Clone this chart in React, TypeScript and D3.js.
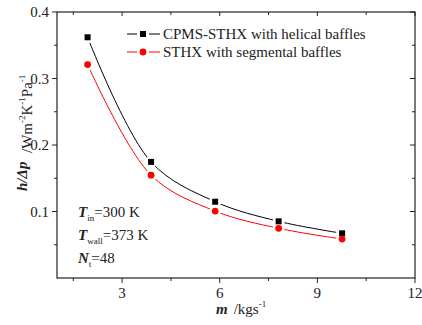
import React from "react";
import * as d3 from "d3";

const massFlow = [1.94, 3.89, 5.86, 7.81, 9.76];
const helical = [0.362, 0.1746, 0.1147, 0.0852, 0.0672];
const segmental = [0.321, 0.1546, 0.1006, 0.0747, 0.0586];
const seriesNames = ["CPMS-STHX with helical baffles", "STHX with segmental baffles"];
const xMajor = [3, 6, 9, 12];
const xMinor = [1.5, 4.5, 7.5, 10.5];
const yMajor = [0.1, 0.2, 0.3, 0.4];
const yMinor = [0.05, 0.15, 0.25, 0.35];

const W = 422, H = 325;
const L = 57, R = 415, T = 12, B = 278;
const FONT = "Liberation Serif, DejaVu Serif, serif";

export default function App() {
  const x = d3.scaleLinear().domain([1, 12]).range([L, R]);
  const y = d3.scaleLinear().domain([0, 0.4]).range([B, T]);
  const line = d3
    .line<[number, number]>()
    .x((d) => x(d[0]))
    .y((d) => y(d[1]))
    .curve(d3.curveCatmullRom.alpha(0.5));

  const series = [
    { vals: helical, color: "#000000", shape: "square", name: seriesNames[0] },
    { vals: segmental, color: "#ff0000", shape: "circle", name: seriesNames[1] },
  ];

  const marker = (shape: string, cx: number, cy: number, color: string, key: any) =>
    shape === "square" ? (
      <rect key={key} x={cx - 3} y={cy - 3} width={6} height={6} fill={color} />
    ) : (
      <circle key={key} cx={cx} cy={cy} r={3.4} fill={color} />
    );

  const legendY = [34, 52];
  const ts = { fontFamily: FONT } as React.CSSProperties;

  return (
    <svg
      width={W}
      height={H}
      style={{ position: "absolute", left: 0, top: 0, background: "#fff", fontFamily: FONT }}
    >
      <defs>
        {series.map((s, i) => (
          <mask id={`m${i}`} key={i} maskUnits="userSpaceOnUse" x={0} y={0} width={W} height={H}>
            <rect x={0} y={0} width={W} height={H} fill="white" />
            {massFlow.map((m, j) => (
              <circle key={j} cx={x(m)} cy={y(s.vals[j])} r={6} fill="black" />
            ))}
          </mask>
        ))}
      </defs>

      {/* frame */}
      <rect x={L} y={T} width={R - L} height={B - T} fill="none" stroke="#222" strokeWidth={1.2} />

      {/* x ticks bottom (outward) and top (inward) */}
      {xMajor.map((v) => (
        <g key={"xM" + v}>
          <line x1={x(v)} x2={x(v)} y1={B} y2={B + 5} stroke="#222" />
          <line x1={x(v)} x2={x(v)} y1={T} y2={T + 4} stroke="#222" />
          <text x={x(v)} y={298} fontSize={15} textAnchor="middle" fill="#222" style={ts}>
            {v}
          </text>
        </g>
      ))}
      {xMinor.map((v) => (
        <g key={"xm" + v}>
          <line x1={x(v)} x2={x(v)} y1={B} y2={B + 3} stroke="#222" />
          <line x1={x(v)} x2={x(v)} y1={T} y2={T + 3} stroke="#222" />
        </g>
      ))}

      {/* y ticks left (outward) and right (inward) */}
      {yMajor.map((v) => (
        <g key={"yM" + v}>
          <line x1={L - 5} x2={L} y1={y(v)} y2={y(v)} stroke="#222" />
          <line x1={R - 5} x2={R} y1={y(v)} y2={y(v)} stroke="#222" />
          <text x={49} y={y(v) + 5} fontSize={15} textAnchor="end" fill="#222" style={ts}>
            {v.toFixed(1)}
          </text>
        </g>
      ))}
      {yMinor.map((v) => (
        <g key={"ym" + v}>
          <line x1={L - 3} x2={L} y1={y(v)} y2={y(v)} stroke="#222" />
          <line x1={R - 3} x2={R} y1={y(v)} y2={y(v)} stroke="#222" />
        </g>
      ))}

      {/* series */}
      {series.map((s, i) => (
        <g key={"s" + i}>
          <path
            d={line(massFlow.map((m, j) => [m, s.vals[j]] as [number, number])) || ""}
            fill="none"
            stroke={s.color}
            strokeWidth={1}
            mask={`url(#m${i})`}
          />
          {massFlow.map((m, j) => marker(s.shape, x(m), y(s.vals[j]), s.color, j))}
        </g>
      ))}

      {/* legend */}
      {series.map((s, i) => (
        <g key={"l" + i}>
          <line x1={127} x2={137} y1={legendY[i]} y2={legendY[i]} stroke={s.color} />
          <line x1={149} x2={160} y1={legendY[i]} y2={legendY[i]} stroke={s.color} />
          {marker(s.shape, 143, legendY[i], s.color, "lm")}
          <text x={163} y={legendY[i] + 5} fontSize={15} fill="#222" style={ts}>
            {s.name}
          </text>
        </g>
      ))}

      {/* annotations */}
      <g fontSize={15} fill="#222" style={ts}>
        <text x={78} y={217} style={ts}>
          <tspan fontWeight="bold" fontStyle="italic">T</tspan>
          <tspan fontSize={9} dy={4}>in</tspan>
          <tspan dy={-4}>=300 K</tspan>
        </text>
        <text x={78} y={240} style={ts}>
          <tspan fontWeight="bold" fontStyle="italic">T</tspan>
          <tspan fontSize={9} dy={4}>wall</tspan>
          <tspan dy={-4}>=373 K</tspan>
        </text>
        <text x={78} y={263} style={ts}>
          <tspan fontWeight="bold" fontStyle="italic">N</tspan>
          <tspan fontSize={9} dy={4}>t</tspan>
          <tspan dy={-4}>=48</tspan>
        </text>
      </g>

      {/* x axis label */}
      <text x={216} y={314} fontSize={15} fill="#222" style={ts}>
        <tspan fontWeight="bold" fontStyle="italic">m</tspan>
        <tspan dx={6}>/kgs</tspan>
        <tspan fontSize={9} dy={-7}>-1</tspan>
      </text>

      {/* y axis label */}
      <text transform="translate(27,191) rotate(-90)" fontSize={15} fill="#222" style={ts}>
        <tspan fontWeight="bold" fontStyle="italic">h/Δp</tspan>
      </text>
      <text transform="translate(32,153) rotate(-90)" fontSize={15} fill="#222" style={ts}>
        <tspan>/Wm</tspan>
        <tspan fontSize={9} dy={-7}>-2</tspan>
        <tspan dy={7}>K</tspan>
        <tspan fontSize={9} dy={-7}>-1</tspan>
        <tspan dy={7}>Pa</tspan>
        <tspan fontSize={9} dy={-7}>-1</tspan>
      </text>
    </svg>
  );
}
